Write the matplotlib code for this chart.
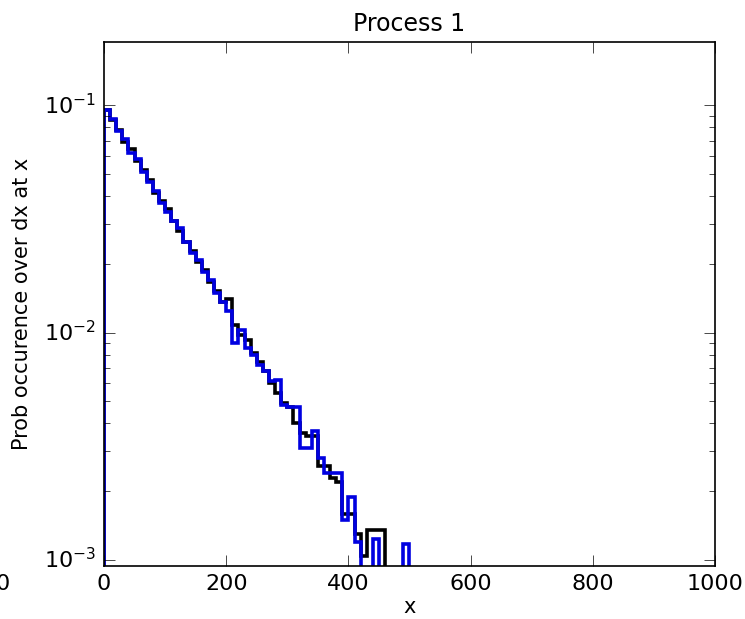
import numpy as np
import matplotlib
matplotlib.use("Agg")
import matplotlib.pyplot as plt

plt.style.use("classic")

# bin edges, width 10 in x
bin_edges = np.arange(0, 510, 10)

# probability per bin (0 = empty bin)
prob_black = [
    0.095, 0.086, 0.078, 0.069, 0.064, 0.057, 0.052, 0.047, 0.041, 0.038,
    0.035, 0.031, 0.028, 0.025, 0.0228, 0.0205, 0.0188, 0.0167, 0.0152, 0.0137,
    0.0140, 0.0108, 0.0098, 0.0093, 0.0081, 0.0074, 0.0068, 0.0060, 0.0054, 0.0049,
    0.0047, 0.0040, 0.0036, 0.0035, 0.0035, 0.0026, 0.0026, 0.0023, 0.0022, 0.0016,
    0.0016, 0.0013, 0.00104, 0.00135, 0.00135, 0.00135, 0, 0, 0, 0,
]
prob_blue = [
    0.095, 0.087, 0.077, 0.071, 0.062, 0.058, 0.051, 0.046, 0.042, 0.037,
    0.034, 0.031, 0.029, 0.025, 0.0225, 0.0208, 0.0184, 0.0170, 0.0150, 0.0136,
    0.0125, 0.0090, 0.0103, 0.0086, 0.0080, 0.0072, 0.0068, 0.0061, 0.0062, 0.0048,
    0.0047, 0.0047, 0.0031, 0.0031, 0.0037, 0.0028, 0.0024, 0.0024, 0.0024, 0.0015,
    0.0019, 0.0012, 0, 0, 0.00124, 0, 0, 0, 0, 0.00117,
]

fig = plt.figure(figsize=(7.45, 6.19), dpi=100, facecolor="white")
ax = fig.add_axes([0.1396, 0.0856, 0.8201, 0.8466])

lefts = bin_edges[:-1]
ax.hist(lefts, bins=bin_edges, weights=prob_black, histtype="step",
        log=True, color="k", linewidth=2.6)
ax.hist(lefts, bins=bin_edges, weights=prob_blue, histtype="step",
        log=True, color="#0000e0", linewidth=2.6)

ax.set_yscale("log")
ax.set_xlim(0, 1000)
ax.set_ylim(0.00094, 0.19)
ax.set_xticks([0, 200, 400, 600, 800, 1000])

ax.tick_params(labelsize=16, pad=6)
ax.tick_params(which="major", length=8)
ax.tick_params(which="minor", length=4)
for sp in ax.spines.values():
    sp.set_linewidth(1.2)

ax.set_title("Process 1", fontsize=17, pad=8)
ax.set_xlabel("x", fontsize=15, labelpad=2)
ax.set_ylabel("Prob occurence over dx at x", fontsize=15, labelpad=8)

# fragment of a neighbouring panel's tick label, cut by the left edge as in the reference
fig.text(-0.006, 0.04, "0", fontsize=16, ha="left", va="bottom")

fig.savefig("out.png", dpi=100, facecolor="white")
